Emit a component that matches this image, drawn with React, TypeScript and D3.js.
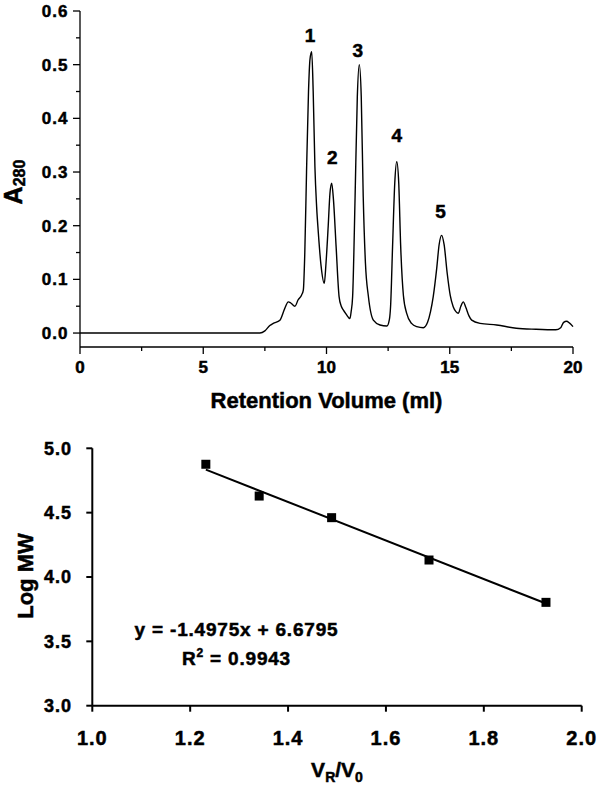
import React from "react";
import * as d3 from "d3";

// ---- Top chart: chromatogram ----
const volume = [0, 7.3, 7.5, 7.7, 7.84, 8.11, 8.3, 8.45, 8.55, 8.72, 8.85, 8.99, 9.06, 9.12, 9.19, 9.27, 9.33, 9.4, 9.46, 9.53, 9.6, 9.67, 9.78, 9.91, 9.98, 10.07, 10.14, 10.21, 10.28, 10.39, 10.51, 10.6, 10.68, 10.8, 10.95, 11.0, 11.06, 11.16, 11.25, 11.33, 11.41, 11.49, 11.58, 11.7, 11.9, 12.17, 12.45, 12.55, 12.6, 12.68, 12.77, 12.85, 12.93, 13.01, 13.12, 13.25, 13.45, 13.66, 13.93, 14.1, 14.22, 14.33, 14.47, 14.57, 14.67, 14.77, 14.9, 15.02, 15.14, 15.25, 15.35, 15.45, 15.55, 15.65, 15.78, 15.89, 16.23, 16.9, 17.7, 18.5, 19.3, 19.5, 19.62, 19.74, 19.85, 20.0];
const absorbance = [0, 0, 0.004, 0.014, 0.018, 0.024, 0.045, 0.058, 0.056, 0.05, 0.062, 0.071, 0.08, 0.15, 0.3, 0.45, 0.51, 0.524, 0.45, 0.31, 0.235, 0.186, 0.125, 0.0925, 0.13, 0.2, 0.26, 0.279, 0.25, 0.161, 0.068, 0.05, 0.043, 0.035, 0.027, 0.04, 0.068, 0.254, 0.44, 0.5, 0.44, 0.254, 0.13, 0.068, 0.024, 0.015, 0.013, 0.025, 0.05, 0.161, 0.28, 0.319, 0.28, 0.161, 0.07, 0.037, 0.018, 0.012, 0.01, 0.02, 0.04, 0.068, 0.12, 0.165, 0.182, 0.165, 0.11, 0.07, 0.049, 0.04, 0.037, 0.05, 0.058, 0.048, 0.032, 0.024, 0.018, 0.015, 0.009, 0.007, 0.006, 0.01, 0.02, 0.022, 0.019, 0.012];
const peakNames = ["1", "2", "3", "4", "5"];
const peakLabelX = [9.33, 10.23, 11.27, 12.85, 14.63];
const peakLabelY = [0.555, 0.328, 0.527, 0.369, 0.226];
const topXTicks = [0, 5, 10, 15, 20];
const topXMinor = [2.5, 7.5, 12.5, 17.5];
const topYTicks = [0, 0.1, 0.2, 0.3, 0.4, 0.5, 0.6];
const topYMinor = [0.05, 0.15, 0.25, 0.35, 0.45, 0.55];

// ---- Bottom chart: calibration ----
const ratio = [1.232, 1.341, 1.489, 1.688, 1.927];
const logMW = [4.876, 4.629, 4.461, 4.132, 3.803];
const slope = -1.4975;
const intercept = 6.6795;
const rSquared = 0.9943;
const botXTicks = [1.0, 1.2, 1.4, 1.6, 1.8, 2.0];
const botYTicks = [3.0, 3.5, 4.0, 4.5, 5.0];

const FONT = "'Liberation Sans', Arial, Helvetica, sans-serif";
const B: React.CSSProperties = { fontWeight: 700, fontFamily: FONT, stroke: "#000", strokeWidth: 0.5 };

export default function App() {
  const tx = d3.scaleLinear().domain([0, 20]).range([80, 573]);
  const ty = d3.scaleLinear().domain([-0.026, 0.6]).range([347, 11]);
  const line = d3
    .line<number>()
    .x((_, i) => tx(volume[i]))
    .y((d) => ty(d))
    .curve(d3.curveMonotoneX);
  const pathD = line(absorbance) || "";

  const bx = d3.scaleLinear().domain([1, 2]).range([92.3, 581.7]);
  const by = d3.scaleLinear().domain([3, 5]).range([705.7, 448.3]);
  const fitX = [ratio[0], ratio[ratio.length - 1]];
  const fitLine =
    d3
      .line<number>()
      .x((d) => bx(d))
      .y((d) => by(slope * d + intercept))(fitX) || "";

  const sq = 9;

  return (
    <svg
      width={600}
      height={786}
      style={{ position: "absolute", left: 0, top: 0, display: "block", background: "#fff" }}
    >
      <rect x={0} y={0} width={600} height={786} fill="#fff" />
      {/* ===== Top chart ===== */}
      <g stroke="#000" strokeWidth={1.3} fill="none">
        <line x1={80} x2={80} y1={ty(0.6)} y2={347} />
        <line x1={80} x2={573} y1={347} y2={347} />
        {topYTicks.map((t) => (
          <line key={"ty" + t} x1={73} x2={80} y1={ty(t)} y2={ty(t)} />
        ))}
        {topYMinor.map((t) => (
          <line key={"tym" + t} x1={76} x2={80} y1={ty(t)} y2={ty(t)} />
        ))}
        {topXTicks.map((t) => (
          <line key={"tx" + t} x1={tx(t)} x2={tx(t)} y1={347} y2={354} />
        ))}
        {topXMinor.map((t) => (
          <line key={"txm" + t} x1={tx(t)} x2={tx(t)} y1={347} y2={351} />
        ))}
        <path d={pathD} strokeWidth={1.4} />
      </g>
      <g fill="#000">
        {topYTicks.map((t) => (
          <text key={"tyl" + t} style={B} fontSize={17} x={68.5} y={ty(t)} dy="0.35em" textAnchor="end" letterSpacing={1}>
            {d3.format(".1f")(t)}
          </text>
        ))}
        {topXTicks.map((t) => (
          <text key={"txl" + t} style={B} fontSize={17} x={tx(t)} y={373} textAnchor="middle">
            {t}
          </text>
        ))}
        {peakNames.map((n, i) => (
          <text key={"pk" + n} style={B} fontSize={19} x={tx(peakLabelX[i])} y={ty(peakLabelY[i])} dy="0.35em" textAnchor="middle">
            {n}
          </text>
        ))}
        <text style={B} x={326.5} y={408} textAnchor="middle" fontSize={22}>
          Retention Volume (ml)
        </text>
        <text style={B} transform="translate(22,182) rotate(-90)" textAnchor="middle">
          <tspan fontSize={25}>A</tspan>
          <tspan fontSize={16} dy={3}>280</tspan>
        </text>
      </g>

      {/* ===== Bottom chart ===== */}
      <g stroke="#000" strokeWidth={2} fill="none">
        <line x1={bx(1)} x2={bx(1)} y1={by(5)} y2={by(3)} />
        <line x1={bx(1)} x2={bx(2)} y1={by(3)} y2={by(3)} />
        {botYTicks.map((t) => (
          <line key={"by" + t} x1={bx(1) - 6} x2={bx(1)} y1={by(t)} y2={by(t)} />
        ))}
        {botXTicks.map((t) => (
          <line key={"bx" + t} x1={bx(t)} x2={bx(t)} y1={by(3)} y2={by(3) + 6} />
        ))}
        <path d={fitLine} strokeWidth={2} />
      </g>
      <g fill="#000">
        {ratio.map((r, i) => (
          <rect key={"pt" + i} x={bx(r) - sq / 2} y={by(logMW[i]) - sq / 2} width={sq} height={sq} />
        ))}
      </g>
      <g fill="#000">
        {botYTicks.map((t) => (
          <text key={"byl" + t} style={B} fontSize={18} x={72} y={by(t)} dy="0.35em" textAnchor="end" letterSpacing={1}>
            {d3.format(".1f")(t)}
          </text>
        ))}
        {botXTicks.map((t) => (
          <text key={"bxl" + t} style={B} fontSize={20} x={bx(t)} y={745} textAnchor="middle" letterSpacing={1}>
            {d3.format(".1f")(t)}
          </text>
        ))}
        <text style={B} x={236.5} y={636} textAnchor="middle" fontSize={19} letterSpacing={0.8}>
          {`y = ${slope}x + ${intercept}`}
        </text>
        <text style={B} x={236.5} y={665} textAnchor="middle" fontSize={19} letterSpacing={0.8}>
          <tspan>R</tspan>
          <tspan fontSize={12} dy={-8}>2</tspan>
          <tspan dy={8}>{` = ${rSquared}`}</tspan>
        </text>
        <text style={B} transform="translate(33,576) rotate(-90)" textAnchor="middle" fontSize={22}>
          Log MW
        </text>
        <text style={B} x={337} y={777} textAnchor="middle" fontSize={21}>
          <tspan>V</tspan>
          <tspan fontSize={14} dy={5}>R</tspan>
          <tspan dy={-5}>/V</tspan>
          <tspan fontSize={14} dy={5}>0</tspan>
        </text>
      </g>
    </svg>
  );
}
